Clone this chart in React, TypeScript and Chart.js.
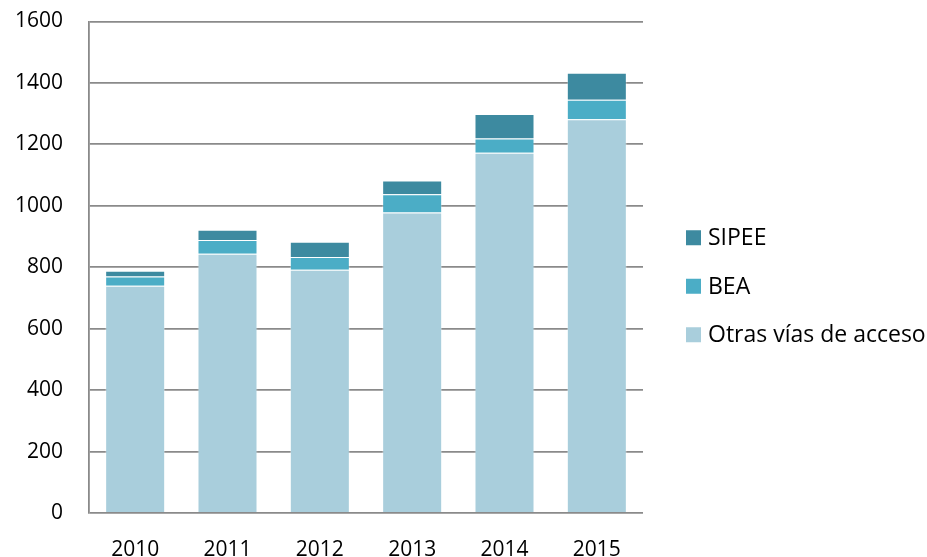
import React, { useEffect, useRef } from "react";
import { Chart, registerables } from "chart.js";

Chart.register(...registerables);

const categories = ["2010", "2011", "2012", "2013", "2014", "2015"];
const otras = [740, 844, 792, 978, 1173, 1282];
const bea = [30, 45, 41, 60, 46, 63];
const sipee = [19, 33, 50, 44, 80, 88];
const yTicks = [0, 200, 400, 600, 800, 1000, 1200, 1400, 1600];
const seriesNames = ["Otras vías de acceso", "BEA", "SIPEE"];
const seriesColors = ["#A9CEDC", "#4BADC6", "#3D8AA0"];

const FONT = "'Open Sans', 'Noto Sans', sans-serif";

const legendPlugin = {
  id: "sideLegend",
  afterDraw(chart: any) {
    const { ctx, chartArea } = chart;
    const mid = (chartArea.top + chartArea.bottom) / 2 + 19;
    const x = chartArea.right + 43;
    const gap = 48.5;
    ctx.save();
    ctx.font = `23px ${FONT}`;
    ctx.textBaseline = "middle";
    ctx.textAlign = "left";
    const n = chart.data.datasets.length;
    for (let i = 0; i < n; i++) {
      const ds = chart.data.datasets[n - 1 - i];
      const cy = mid + (i - (n - 1) / 2) * gap;
      ctx.fillStyle = ds.backgroundColor;
      ctx.fillRect(x, cy - 7.5, 15, 15);
      ctx.fillStyle = "#000";
      ctx.fillText(ds.label, x + 22, cy + 1);
    }
    ctx.restore();
  },
};

export default function App() {
  const ref = useRef<HTMLCanvasElement | null>(null);
  useEffect(() => {
    document.body.style.margin = "0";
    const ctx = ref.current!;
    const chart = new Chart(ctx, {
      type: "bar",
      data: {
        labels: categories,
        datasets: [otras, bea, sipee].map((d, i) => ({
          label: seriesNames[i],
          data: d,
          backgroundColor: seriesColors[i],
          borderColor: "rgba(255,255,255,0.3)",
          borderWidth: 1,
        })),
      },
      plugins: [legendPlugin],
      options: {
        animation: false,
        responsive: true,
        maintainAspectRatio: false,
        layout: { padding: { top: 21.5, right: 284, left: 13, bottom: 0 } },
        datasets: { bar: { barPercentage: 0.65, categoryPercentage: 1 } },
        scales: {
          x: {
            stacked: true,
            grid: { display: false, drawTicks: false },
            border: { display: false },
            ticks: { color: "#000", font: { family: FONT, size: 21, lineHeight: 1 }, padding: 27 },
            afterFit: (s: any) => {
              s.height = 44;
              s.paddingLeft = 0;
              s.paddingRight = 0;
            },
          },
          y: {
            stacked: true,
            min: 0,
            max: 1600,
            afterBuildTicks: (axis: any) => {
              axis.ticks = yTicks.map((v) => ({ value: v }));
            },
            afterFit: (s: any) => {
              s.width = 76;
              s.paddingTop = 0;
              s.paddingBottom = 0;
            },
            grid: { color: "#8A8A8A", lineWidth: 1.8, drawTicks: false },
            border: { display: true, color: "#8A8A8A", width: 1.8 },
            ticks: {
              color: "#000",
              font: { family: FONT, size: 21 },
              padding: 26,
              callback: (v: any) => String(v),
            },
          },
        },
        plugins: {
          tooltip: { enabled: false },
          legend: { display: false },
        },
      },
    } as any);
    return () => chart.destroy();
  }, []);
  return (
    <div style={{ position: "relative", width: 927, height: 557 }}>
      <canvas ref={ref} />
    </div>
  );
}
